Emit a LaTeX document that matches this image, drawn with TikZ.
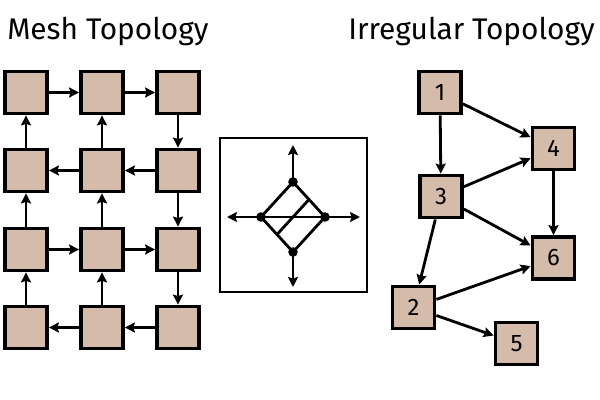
\documentclass[tikz,border=0pt]{standalone}
\usepackage{fontspec}
\setmainfont{Fira Sans}
\usetikzlibrary{calc,arrows.meta}
\definecolor{tileFill}{HTML}{D5BCAA}
\tikzset{
  tile/.style={draw, line width=2.7pt, fill=tileFill, minimum size=1.05cm, inner sep=0pt, font=\fontsize{17}{17}\selectfont},
  arr/.style={-{Stealth[length=2.5mm, width=2.5mm, inset=0.4mm]}, line width=2pt},
  dot/.style={circle, fill=black, inner sep=0pt, minimum size=0.24cm},
  title/.style={anchor=base west, inner sep=0pt, font=\fontsize{21.2}{21.2}\selectfont}
}

\begin{document}
\begin{tikzpicture}[x=0.025cm, y=-0.025cm]
  \useasboundingbox (0,0) rectangle (600,400);

  % ---- left: mesh ----
  \node[title] (tMesh) at (7,40) {Mesh Topology};
  \foreach \r/\y in {1/92.5, 2/170.5, 3/249.5, 4/327.5} {
    \foreach \c/\x in {1/26, 2/102, 3/178} {
      \node[tile] (m\r\c) at (\x,\y) {};
    }
  }
  \foreach \a/\b in {m11/m12, m12/m13, m13/m23, m23/m22, m22/m21, m21/m11, m22/m12,
                     m23/m33, m31/m32, m32/m33, m31/m21, m32/m22, m33/m43,
                     m43/m42, m42/m41, m41/m31, m42/m32} {
    \draw[arr] (\a) -- (\b);
  }

  % ---- middle: router ----
  \node[draw, line width=1.9pt, minimum width=3.675cm, minimum height=3.85cm, inner sep=0pt] (box) at (293.5,215) {};
  \node[dot] (dT) at (293,182) {};
  \node[dot] (dB) at (293,252) {};
  \node[dot] (dL) at (261,217) {};
  \node[dot] (dR) at (325,217) {};
  \coordinate (aT) at (293,145);
  \coordinate (aB) at (293,287);
  \coordinate (aL) at (227,217);
  \coordinate (aR) at (360,217);
  \draw[line width=2pt, line join=round] (dT.center) -- (dR.center) -- (dB.center) -- (dL.center) -- cycle;
  \draw[line width=2pt] (dL.center) -- (dR.center);
  \draw[line width=2pt] ($(dT)!0.5!(dR)$) -- ($(dL)!0.5!(dB)$);
  \foreach \d in {T, B, L, R} {
    \draw[arr] (d\d.center) -- (a\d);
  }

  % ---- right: irregular ----
  \node[title] (tIrr) at (348,40) {Irregular Topology};
  \foreach \i/\x/\y in {1/440/92.5, 4/553.5/148.5, 3/441/196.5, 6/553.5/258, 2/413.5/307.5, 5/516.5/343.5} {
    \node[tile] (n\i) at (\x,\y) {\i};
  }
  \foreach \a/\b in {1/4, 1/3, 3/4, 3/6, 4/6, 3/2, 2/6, 2/5} {
    \draw[arr] (n\a) -- (n\b);
  }
\end{tikzpicture}
\end{document}
